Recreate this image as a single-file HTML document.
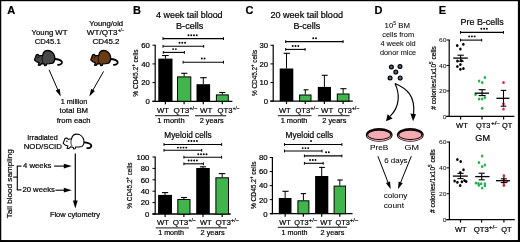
<!DOCTYPE html>
<html><head><meta charset="utf-8"><style>
html,body{margin:0;padding:0;background:#fff;}
svg{display:block;font-family:"Liberation Sans", sans-serif;will-change:transform;filter:blur(0.2px);}
text{stroke:#000;stroke-width:0.2px;}
</style></head><body>
<svg width="520" height="242" viewBox="0 0 520 242">
<rect width="520" height="242" fill="#fff"/>
<rect x="0" y="0" width="520" height="1.2" fill="#000"/>
<rect x="0" y="0" width="1.25" height="242" fill="#000"/>
<rect x="517.9" y="0" width="2.1" height="242" fill="#000"/>
<rect x="0" y="240.05" width="520" height="1.95" fill="#000"/>
<text x="7.20" y="14.20" font-size="11" font-weight="bold" >A</text>
<text x="133.00" y="14.00" font-size="11" font-weight="bold" >B</text>
<text x="245.60" y="14.20" font-size="11" font-weight="bold" >C</text>
<text x="374.40" y="14.10" font-size="11" font-weight="bold" >D</text>
<text x="438.80" y="14.30" font-size="11" font-weight="bold" >E</text>
<text x="49.50" y="34.90" font-size="7.6" text-anchor="middle" textLength="35.80" lengthAdjust="spacingAndGlyphs" >Young WT</text>
<text x="47.70" y="44.20" font-size="7.6" text-anchor="middle" textLength="25.90" lengthAdjust="spacingAndGlyphs" >CD45.1</text>
<text x="106.20" y="25.80" font-size="7.6" text-anchor="middle" textLength="33.90" lengthAdjust="spacingAndGlyphs" >Young/old</text>
<text x="86.80" y="34.80" font-size="7.6" textLength="30.60" lengthAdjust="spacingAndGlyphs" >WT/QT3</text>
<text x="118.10" y="31.50" font-size="5.0" textLength="6.00" lengthAdjust="spacingAndGlyphs" >+/−</text>
<text x="106.00" y="44.10" font-size="7.6" text-anchor="middle" textLength="27.00" lengthAdjust="spacingAndGlyphs" >CD45.2</text>
<text x="74.00" y="104.30" font-size="7.4" text-anchor="middle" textLength="26.60" lengthAdjust="spacingAndGlyphs" >1 million</text>
<text x="73.80" y="113.00" font-size="7.4" text-anchor="middle" textLength="28.40" lengthAdjust="spacingAndGlyphs" >total BM</text>
<text x="73.60" y="122.50" font-size="7.4" text-anchor="middle" textLength="33.80" lengthAdjust="spacingAndGlyphs" >from each</text>
<text x="42.60" y="140.00" font-size="7.3" text-anchor="middle" textLength="30.60" lengthAdjust="spacingAndGlyphs" >Irradiated</text>
<text x="42.80" y="149.30" font-size="7.6" text-anchor="middle" textLength="38.30" lengthAdjust="spacingAndGlyphs" >NOD/SCID</text>
<text x="23.00" y="168.40" font-size="7.4" textLength="28.40" lengthAdjust="spacingAndGlyphs" >4 weeks</text>
<text x="22.40" y="192.00" font-size="7.4" textLength="32.60" lengthAdjust="spacingAndGlyphs" >20 weeks</text>
<text x="75.00" y="217.00" font-size="7.4" text-anchor="middle" textLength="50.20" lengthAdjust="spacingAndGlyphs" >Flow cytometry</text>
<text x="0" y="0" font-size="7.8" text-anchor="middle" textLength="69.00" lengthAdjust="spacingAndGlyphs" transform="translate(11.90,183.70) rotate(-90)">Tail blood sampling</text>
<g transform="translate(33.9,49.0) scale(0.98,1.02)"><path d="M20.8,9.8 C24.0,9.9 27.6,10.6 28.6,12.6 C29.2,14.5 27.0,15.6 24.6,15.5" fill="none" stroke="#000" stroke-width="1.8" stroke-linecap="round"/><path d="M0.6,10.8 L2.5,5.7 L4.1,5.3 L5.7,6.8 L6.8,6.5 L8.9,6.3 C9.5,3.0 12.0,1.5 14.3,1.5 C17.5,1.5 20.5,4.0 21.2,7.5 C21.6,10.0 21.0,12.5 19.5,13.8 L16.0,14.3 L13.0,14.5 L12.6,16.1 L11.0,16.3 L10.8,14.8 L8.0,14.2 L6.2,16.0 L4.5,15.8 L5.3,13.3 L2.5,12.3 Z" fill="#474747" stroke="#000" stroke-width="1.3" stroke-linejoin="round"/><path d="M8.9,6.3 C8.0,9.0 8.0,11.5 9.6,13.6" fill="none" stroke="#000" stroke-width="0.8"/><circle cx="4.3" cy="8.6" r="0.75" fill="#000"/></g>
<g transform="translate(90.2,49.0) scale(0.96,1.02)"><path d="M20.8,9.8 C24.0,9.9 27.6,10.6 28.6,12.6 C29.2,14.5 27.0,15.6 24.6,15.5" fill="none" stroke="#000" stroke-width="1.8" stroke-linecap="round"/><path d="M0.6,10.8 L2.5,5.7 L4.1,5.3 L5.7,6.8 L6.8,6.5 L8.9,6.3 C9.5,3.0 12.0,1.5 14.3,1.5 C17.5,1.5 20.5,4.0 21.2,7.5 C21.6,10.0 21.0,12.5 19.5,13.8 L16.0,14.3 L13.0,14.5 L12.6,16.1 L11.0,16.3 L10.8,14.8 L8.0,14.2 L6.2,16.0 L4.5,15.8 L5.3,13.3 L2.5,12.3 Z" fill="#6c3c14" stroke="#000" stroke-width="1.3" stroke-linejoin="round"/><path d="M8.9,6.3 C8.0,9.0 8.0,11.5 9.6,13.6" fill="none" stroke="#000" stroke-width="0.8"/><circle cx="4.3" cy="8.6" r="0.75" fill="#000"/></g>
<g transform="translate(62.6,132.6) scale(1.0,1.0)"><path d="M20.8,9.8 C24.0,9.9 27.6,10.6 28.6,12.6 C29.2,14.5 27.0,15.6 24.6,15.5" fill="none" stroke="#000" stroke-width="1.8" stroke-linecap="round"/><path d="M0.6,10.8 L2.5,5.7 L4.1,5.3 L5.7,6.8 L6.8,6.5 L8.9,6.3 C9.5,3.0 12.0,1.5 14.3,1.5 C17.5,1.5 20.5,4.0 21.2,7.5 C21.6,10.0 21.0,12.5 19.5,13.8 L16.0,14.3 L13.0,14.5 L12.6,16.1 L11.0,16.3 L10.8,14.8 L8.0,14.2 L6.2,16.0 L4.5,15.8 L5.3,13.3 L2.5,12.3 Z" fill="#fff" stroke="#000" stroke-width="1.05" stroke-linejoin="round"/><path d="M8.9,6.3 C8.0,9.0 8.0,11.5 9.6,13.6" fill="none" stroke="#000" stroke-width="0.8"/><circle cx="4.3" cy="8.6" r="0.75" fill="#000"/></g>
<line x1="49.10" y1="69.80" x2="57.90" y2="89.98" stroke="#000" stroke-width="1.0" />
<path d="M60.70,96.40 L55.69,90.40 L59.72,88.65 Z" fill="#000"/>
<line x1="103.60" y1="71.40" x2="92.78" y2="90.32" stroke="#000" stroke-width="1.0" />
<path d="M89.30,96.40 L91.11,88.80 L94.93,90.98 Z" fill="#000"/>
<line x1="17.30" y1="166.10" x2="17.30" y2="189.90" stroke="#000" stroke-width="1.1" />
<line x1="16.80" y1="166.10" x2="21.50" y2="166.10" stroke="#000" stroke-width="1.1" />
<line x1="16.80" y1="189.90" x2="21.50" y2="189.90" stroke="#000" stroke-width="1.1" />
<line x1="13.20" y1="177.10" x2="17.30" y2="177.10" stroke="#000" stroke-width="1.1" />
<line x1="54.10" y1="166.10" x2="64.30" y2="166.10" stroke="#000" stroke-width="1.1" />
<path d="M71.80,166.10 L63.80,168.50 L63.80,163.70 Z" fill="#000"/>
<line x1="55.40" y1="190.20" x2="64.30" y2="190.20" stroke="#000" stroke-width="1.1" />
<path d="M71.80,190.20 L63.80,192.60 L63.80,187.80 Z" fill="#000"/>
<line x1="75.30" y1="153.50" x2="75.30" y2="200.90" stroke="#000" stroke-width="1.2" />
<path d="M75.30,208.40 L72.90,200.40 L77.70,200.40 Z" fill="#000"/>
<text x="189.30" y="17.90" font-size="8.4" text-anchor="middle" textLength="66.60" lengthAdjust="spacingAndGlyphs" >4 week tail blood</text>
<text x="189.70" y="29.20" font-size="8.8" text-anchor="middle" textLength="27.30" lengthAdjust="spacingAndGlyphs" >B-cells</text>
<line x1="155.20" y1="44.70" x2="155.20" y2="101.80" stroke="#000" stroke-width="1.2" />
<line x1="152.50" y1="45.20" x2="155.20" y2="45.20" stroke="#000" stroke-width="1.0" />
<text x="149.90" y="48.08" font-size="7.2" text-anchor="end" textLength="8.65" lengthAdjust="spacingAndGlyphs" >60</text>
<line x1="152.50" y1="63.90" x2="155.20" y2="63.90" stroke="#000" stroke-width="1.0" />
<text x="149.90" y="66.78" font-size="7.2" text-anchor="end" textLength="8.65" lengthAdjust="spacingAndGlyphs" >40</text>
<line x1="152.50" y1="82.60" x2="155.20" y2="82.60" stroke="#000" stroke-width="1.0" />
<text x="149.90" y="85.48" font-size="7.2" text-anchor="end" textLength="8.65" lengthAdjust="spacingAndGlyphs" >20</text>
<line x1="152.50" y1="101.30" x2="155.20" y2="101.30" stroke="#000" stroke-width="1.0" />
<text x="149.90" y="104.18" font-size="7.2" text-anchor="end" textLength="4.32" lengthAdjust="spacingAndGlyphs" >0</text>
<line x1="152.40" y1="101.30" x2="232.40" y2="101.30" stroke="#000" stroke-width="1.3" />
<line x1="165.40" y1="101.30" x2="165.40" y2="104.30" stroke="#000" stroke-width="1.2" />
<line x1="184.10" y1="101.30" x2="184.10" y2="104.30" stroke="#000" stroke-width="1.2" />
<line x1="203.30" y1="101.30" x2="203.30" y2="104.30" stroke="#000" stroke-width="1.2" />
<line x1="222.30" y1="101.30" x2="222.30" y2="104.30" stroke="#000" stroke-width="1.2" />
<line x1="165.40" y1="55.50" x2="165.40" y2="58.60" stroke="#000" stroke-width="1.0" />
<line x1="162.00" y1="55.50" x2="168.70" y2="55.50" stroke="#000" stroke-width="1.1" />
<rect x="158.30" y="58.60" width="14.20" height="42.70" fill="#000"/>
<line x1="184.15" y1="73.30" x2="184.15" y2="76.40" stroke="#000" stroke-width="1.0" />
<line x1="181.20" y1="73.30" x2="187.40" y2="73.30" stroke="#000" stroke-width="1.1" />
<rect x="177.50" y="76.90" width="13.30" height="24.40" fill="#3fb54b" stroke="#000" stroke-width="1.0"/>
<line x1="203.30" y1="77.70" x2="203.30" y2="84.20" stroke="#000" stroke-width="1.0" />
<line x1="200.20" y1="77.70" x2="206.70" y2="77.70" stroke="#000" stroke-width="1.1" />
<rect x="196.50" y="84.20" width="13.60" height="17.10" fill="#000"/>
<line x1="222.35" y1="92.50" x2="222.35" y2="94.40" stroke="#000" stroke-width="1.0" />
<line x1="219.20" y1="92.50" x2="225.40" y2="92.50" stroke="#000" stroke-width="1.1" />
<rect x="216.40" y="94.90" width="11.90" height="6.40" fill="#3fb54b" stroke="#000" stroke-width="1.0"/>
<line x1="163.00" y1="38.60" x2="223.50" y2="38.60" stroke="#000" stroke-width="1.1" />
<line x1="163.00" y1="37.20" x2="163.00" y2="40.00" stroke="#000" stroke-width="1.0" />
<line x1="223.50" y1="37.20" x2="223.50" y2="40.00" stroke="#000" stroke-width="1.0" />
<circle cx="188.47" cy="35.20" r="0.95" fill="#000"/>
<circle cx="191.22" cy="35.20" r="0.95" fill="#000"/>
<circle cx="193.97" cy="35.20" r="0.95" fill="#000"/>
<circle cx="196.72" cy="35.20" r="0.95" fill="#000"/>
<line x1="163.00" y1="46.30" x2="203.70" y2="46.30" stroke="#000" stroke-width="1.1" />
<line x1="163.00" y1="44.90" x2="163.00" y2="47.70" stroke="#000" stroke-width="1.0" />
<line x1="203.70" y1="44.90" x2="203.70" y2="47.70" stroke="#000" stroke-width="1.0" />
<circle cx="179.55" cy="42.80" r="0.95" fill="#000"/>
<circle cx="182.30" cy="42.80" r="0.95" fill="#000"/>
<circle cx="185.05" cy="42.80" r="0.95" fill="#000"/>
<line x1="163.30" y1="52.40" x2="184.40" y2="52.40" stroke="#000" stroke-width="1.1" />
<line x1="163.30" y1="51.00" x2="163.30" y2="53.80" stroke="#000" stroke-width="1.0" />
<line x1="184.40" y1="51.00" x2="184.40" y2="53.80" stroke="#000" stroke-width="1.0" />
<circle cx="173.12" cy="49.10" r="0.95" fill="#000"/>
<circle cx="175.88" cy="49.10" r="0.95" fill="#000"/>
<line x1="183.10" y1="62.20" x2="223.50" y2="62.20" stroke="#000" stroke-width="1.1" />
<line x1="183.10" y1="60.80" x2="183.10" y2="63.60" stroke="#000" stroke-width="1.0" />
<line x1="223.50" y1="60.80" x2="223.50" y2="63.60" stroke="#000" stroke-width="1.0" />
<circle cx="201.82" cy="58.50" r="0.95" fill="#000"/>
<circle cx="204.57" cy="58.50" r="0.95" fill="#000"/>
<text x="0" y="0" font-size="7.8" text-anchor="middle" textLength="47.40" lengthAdjust="spacingAndGlyphs" transform="translate(138.00,73.10) rotate(-90)">% CD45.2<tspan baseline-shift="3.0" font-size="5.0">+</tspan> cells</text>
<text x="157.00" y="113.00" font-size="7.3" textLength="12.00" lengthAdjust="spacingAndGlyphs" >WT</text>
<text x="173.60" y="113.00" font-size="7.6" textLength="15.80" lengthAdjust="spacingAndGlyphs" >QT3</text>
<text x="189.20" y="110.20" font-size="5.3" textLength="8.20" lengthAdjust="spacingAndGlyphs" >+/−</text>
<text x="200.10" y="113.00" font-size="7.3" textLength="12.30" lengthAdjust="spacingAndGlyphs" >WT</text>
<text x="217.60" y="113.00" font-size="7.6" textLength="15.00" lengthAdjust="spacingAndGlyphs" >QT3</text>
<text x="232.80" y="110.20" font-size="5.3" textLength="6.60" lengthAdjust="spacingAndGlyphs" >+/−</text>
<line x1="155.00" y1="115.70" x2="189.00" y2="115.70" stroke="#444" stroke-width="1.3" />
<line x1="195.00" y1="115.70" x2="226.10" y2="115.70" stroke="#444" stroke-width="1.3" />
<text x="157.30" y="123.30" font-size="7.3" textLength="27.30" lengthAdjust="spacingAndGlyphs" >1 month</text>
<text x="199.70" y="123.30" font-size="7.3" textLength="24.10" lengthAdjust="spacingAndGlyphs" >2 years</text>
<text x="188.00" y="137.90" font-size="8.2" text-anchor="middle" textLength="47.30" lengthAdjust="spacingAndGlyphs" >Myeloid cells</text>
<line x1="155.20" y1="156.50" x2="155.20" y2="214.50" stroke="#000" stroke-width="1.2" />
<line x1="152.50" y1="157.00" x2="155.20" y2="157.00" stroke="#000" stroke-width="1.0" />
<text x="149.40" y="159.88" font-size="7.2" text-anchor="end" textLength="12.97" lengthAdjust="spacingAndGlyphs" >100</text>
<line x1="152.50" y1="168.40" x2="155.20" y2="168.40" stroke="#000" stroke-width="1.0" />
<text x="149.40" y="171.28" font-size="7.2" text-anchor="end" textLength="8.65" lengthAdjust="spacingAndGlyphs" >80</text>
<line x1="152.50" y1="179.80" x2="155.20" y2="179.80" stroke="#000" stroke-width="1.0" />
<text x="149.40" y="182.68" font-size="7.2" text-anchor="end" textLength="8.65" lengthAdjust="spacingAndGlyphs" >60</text>
<line x1="152.50" y1="191.20" x2="155.20" y2="191.20" stroke="#000" stroke-width="1.0" />
<text x="149.40" y="194.08" font-size="7.2" text-anchor="end" textLength="8.65" lengthAdjust="spacingAndGlyphs" >40</text>
<line x1="152.50" y1="202.60" x2="155.20" y2="202.60" stroke="#000" stroke-width="1.0" />
<text x="149.40" y="205.48" font-size="7.2" text-anchor="end" textLength="8.65" lengthAdjust="spacingAndGlyphs" >20</text>
<line x1="152.50" y1="214.00" x2="155.20" y2="214.00" stroke="#000" stroke-width="1.0" />
<text x="149.40" y="216.88" font-size="7.2" text-anchor="end" textLength="4.32" lengthAdjust="spacingAndGlyphs" >0</text>
<line x1="152.40" y1="214.00" x2="230.70" y2="214.00" stroke="#000" stroke-width="1.3" />
<line x1="165.10" y1="214.00" x2="165.10" y2="217.00" stroke="#000" stroke-width="1.2" />
<line x1="183.90" y1="214.00" x2="183.90" y2="217.00" stroke="#000" stroke-width="1.2" />
<line x1="203.00" y1="214.00" x2="203.00" y2="217.00" stroke="#000" stroke-width="1.2" />
<line x1="222.20" y1="214.00" x2="222.20" y2="217.00" stroke="#000" stroke-width="1.2" />
<line x1="165.05" y1="192.60" x2="165.05" y2="194.90" stroke="#000" stroke-width="1.0" />
<line x1="162.00" y1="192.60" x2="168.20" y2="192.60" stroke="#000" stroke-width="1.1" />
<rect x="158.10" y="194.90" width="13.90" height="19.10" fill="#000"/>
<line x1="183.90" y1="197.50" x2="183.90" y2="199.00" stroke="#000" stroke-width="1.0" />
<line x1="181.00" y1="197.50" x2="187.00" y2="197.50" stroke="#000" stroke-width="1.1" />
<rect x="177.80" y="199.50" width="12.20" height="14.50" fill="#3fb54b" stroke="#000" stroke-width="1.0"/>
<line x1="203.00" y1="166.80" x2="203.00" y2="168.00" stroke="#000" stroke-width="1.0" />
<line x1="199.90" y1="166.80" x2="206.10" y2="166.80" stroke="#000" stroke-width="1.1" />
<rect x="196.20" y="168.00" width="13.60" height="46.00" fill="#000"/>
<line x1="222.20" y1="173.60" x2="222.20" y2="177.30" stroke="#000" stroke-width="1.0" />
<line x1="218.70" y1="173.60" x2="225.30" y2="173.60" stroke="#000" stroke-width="1.1" />
<rect x="215.90" y="177.80" width="12.60" height="36.20" fill="#3fb54b" stroke="#000" stroke-width="1.0"/>
<line x1="164.00" y1="144.50" x2="221.60" y2="144.50" stroke="#000" stroke-width="1.1" />
<line x1="164.00" y1="143.10" x2="164.00" y2="145.90" stroke="#000" stroke-width="1.0" />
<line x1="221.60" y1="143.10" x2="221.60" y2="145.90" stroke="#000" stroke-width="1.0" />
<circle cx="188.68" cy="141.00" r="0.95" fill="#000"/>
<circle cx="191.43" cy="141.00" r="0.95" fill="#000"/>
<circle cx="194.18" cy="141.00" r="0.95" fill="#000"/>
<circle cx="196.93" cy="141.00" r="0.95" fill="#000"/>
<line x1="164.00" y1="150.30" x2="201.70" y2="150.30" stroke="#000" stroke-width="1.1" />
<line x1="164.00" y1="148.90" x2="164.00" y2="151.70" stroke="#000" stroke-width="1.0" />
<line x1="201.70" y1="148.90" x2="201.70" y2="151.70" stroke="#000" stroke-width="1.0" />
<circle cx="177.97" cy="147.60" r="0.95" fill="#000"/>
<circle cx="180.72" cy="147.60" r="0.95" fill="#000"/>
<circle cx="183.47" cy="147.60" r="0.95" fill="#000"/>
<circle cx="186.22" cy="147.60" r="0.95" fill="#000"/>
<line x1="183.90" y1="157.20" x2="221.60" y2="157.20" stroke="#000" stroke-width="1.1" />
<line x1="183.90" y1="155.80" x2="183.90" y2="158.60" stroke="#000" stroke-width="1.0" />
<line x1="221.60" y1="155.80" x2="221.60" y2="158.60" stroke="#000" stroke-width="1.0" />
<circle cx="198.28" cy="154.30" r="0.95" fill="#000"/>
<circle cx="201.03" cy="154.30" r="0.95" fill="#000"/>
<circle cx="203.78" cy="154.30" r="0.95" fill="#000"/>
<circle cx="206.53" cy="154.30" r="0.95" fill="#000"/>
<line x1="183.90" y1="163.80" x2="203.40" y2="163.80" stroke="#000" stroke-width="1.1" />
<line x1="183.90" y1="162.40" x2="183.90" y2="165.20" stroke="#000" stroke-width="1.0" />
<line x1="203.40" y1="162.40" x2="203.40" y2="165.20" stroke="#000" stroke-width="1.0" />
<circle cx="188.68" cy="160.50" r="0.95" fill="#000"/>
<circle cx="191.43" cy="160.50" r="0.95" fill="#000"/>
<circle cx="194.18" cy="160.50" r="0.95" fill="#000"/>
<circle cx="196.93" cy="160.50" r="0.95" fill="#000"/>
<text x="0" y="0" font-size="7.8" text-anchor="middle" textLength="46.10" lengthAdjust="spacingAndGlyphs" transform="translate(131.80,185.60) rotate(-90)">% CD45.2<tspan baseline-shift="3.0" font-size="5.0">+</tspan> cells</text>
<text x="157.00" y="224.80" font-size="7.3" textLength="12.00" lengthAdjust="spacingAndGlyphs" >WT</text>
<text x="172.70" y="224.80" font-size="7.6" textLength="15.60" lengthAdjust="spacingAndGlyphs" >QT3</text>
<text x="188.50" y="222.00" font-size="5.3" textLength="7.30" lengthAdjust="spacingAndGlyphs" >+/−</text>
<text x="199.90" y="224.80" font-size="7.3" textLength="11.70" lengthAdjust="spacingAndGlyphs" >WT</text>
<text x="215.40" y="224.80" font-size="7.6" textLength="15.60" lengthAdjust="spacingAndGlyphs" >QT3</text>
<text x="231.00" y="222.00" font-size="5.3" textLength="7.80" lengthAdjust="spacingAndGlyphs" >+/−</text>
<line x1="155.70" y1="227.80" x2="188.90" y2="227.80" stroke="#444" stroke-width="1.3" />
<line x1="196.70" y1="227.80" x2="227.00" y2="227.80" stroke="#444" stroke-width="1.3" />
<text x="158.20" y="235.00" font-size="7.3" textLength="25.80" lengthAdjust="spacingAndGlyphs" >1 month</text>
<text x="200.50" y="235.00" font-size="7.3" textLength="24.20" lengthAdjust="spacingAndGlyphs" >2 years</text>
<text x="306.70" y="18.40" font-size="8.4" text-anchor="middle" textLength="72.60" lengthAdjust="spacingAndGlyphs" >20 week tail blood</text>
<text x="306.80" y="29.10" font-size="8.8" text-anchor="middle" textLength="26.80" lengthAdjust="spacingAndGlyphs" >B-cells</text>
<line x1="273.20" y1="44.80" x2="273.20" y2="101.60" stroke="#000" stroke-width="1.2" />
<line x1="270.50" y1="45.30" x2="273.20" y2="45.30" stroke="#000" stroke-width="1.0" />
<text x="268.20" y="48.18" font-size="7.2" text-anchor="end" textLength="8.65" lengthAdjust="spacingAndGlyphs" >30</text>
<line x1="270.50" y1="63.90" x2="273.20" y2="63.90" stroke="#000" stroke-width="1.0" />
<text x="268.20" y="66.78" font-size="7.2" text-anchor="end" textLength="8.65" lengthAdjust="spacingAndGlyphs" >20</text>
<line x1="270.50" y1="82.50" x2="273.20" y2="82.50" stroke="#000" stroke-width="1.0" />
<text x="268.20" y="85.38" font-size="7.2" text-anchor="end" textLength="8.65" lengthAdjust="spacingAndGlyphs" >10</text>
<line x1="270.50" y1="101.10" x2="273.20" y2="101.10" stroke="#000" stroke-width="1.0" />
<text x="268.20" y="103.98" font-size="7.2" text-anchor="end" textLength="4.32" lengthAdjust="spacingAndGlyphs" >0</text>
<line x1="270.20" y1="101.10" x2="352.80" y2="101.10" stroke="#000" stroke-width="1.3" />
<line x1="286.50" y1="101.10" x2="286.50" y2="104.10" stroke="#000" stroke-width="1.2" />
<line x1="305.30" y1="101.10" x2="305.30" y2="104.10" stroke="#000" stroke-width="1.2" />
<line x1="324.40" y1="101.10" x2="324.40" y2="104.10" stroke="#000" stroke-width="1.2" />
<line x1="343.10" y1="101.10" x2="343.10" y2="104.10" stroke="#000" stroke-width="1.2" />
<line x1="286.50" y1="53.30" x2="286.50" y2="68.50" stroke="#000" stroke-width="1.0" />
<line x1="283.60" y1="53.30" x2="289.90" y2="53.30" stroke="#000" stroke-width="1.1" />
<rect x="279.70" y="68.50" width="13.60" height="32.60" fill="#000"/>
<line x1="305.30" y1="89.80" x2="305.30" y2="94.50" stroke="#000" stroke-width="1.0" />
<line x1="303.60" y1="89.80" x2="308.50" y2="89.80" stroke="#000" stroke-width="1.1" />
<rect x="299.60" y="95.00" width="11.40" height="6.10" fill="#3fb54b" stroke="#000" stroke-width="1.0"/>
<line x1="324.40" y1="75.30" x2="324.40" y2="86.90" stroke="#000" stroke-width="1.0" />
<line x1="321.70" y1="75.30" x2="327.70" y2="75.30" stroke="#000" stroke-width="1.1" />
<rect x="317.80" y="86.90" width="13.20" height="14.20" fill="#000"/>
<line x1="343.15" y1="88.70" x2="343.15" y2="93.50" stroke="#000" stroke-width="1.0" />
<line x1="340.40" y1="88.70" x2="346.50" y2="88.70" stroke="#000" stroke-width="1.1" />
<rect x="337.30" y="94.00" width="11.70" height="7.10" fill="#3fb54b" stroke="#000" stroke-width="1.0"/>
<line x1="285.70" y1="41.60" x2="343.10" y2="41.60" stroke="#000" stroke-width="1.1" />
<line x1="285.70" y1="40.20" x2="285.70" y2="43.00" stroke="#000" stroke-width="1.0" />
<line x1="343.10" y1="40.20" x2="343.10" y2="43.00" stroke="#000" stroke-width="1.0" />
<circle cx="313.23" cy="38.30" r="0.95" fill="#000"/>
<circle cx="315.98" cy="38.30" r="0.95" fill="#000"/>
<line x1="285.70" y1="49.40" x2="305.10" y2="49.40" stroke="#000" stroke-width="1.1" />
<line x1="285.70" y1="48.00" x2="285.70" y2="50.80" stroke="#000" stroke-width="1.0" />
<line x1="305.10" y1="48.00" x2="305.10" y2="50.80" stroke="#000" stroke-width="1.0" />
<circle cx="292.75" cy="46.00" r="0.95" fill="#000"/>
<circle cx="295.50" cy="46.00" r="0.95" fill="#000"/>
<circle cx="298.25" cy="46.00" r="0.95" fill="#000"/>
<text x="0" y="0" font-size="7.8" text-anchor="middle" textLength="46.20" lengthAdjust="spacingAndGlyphs" transform="translate(256.60,73.00) rotate(-90)">% CD45.2<tspan baseline-shift="3.0" font-size="5.0">+</tspan> cells</text>
<text x="278.90" y="113.00" font-size="7.3" textLength="11.80" lengthAdjust="spacingAndGlyphs" >WT</text>
<text x="295.40" y="113.00" font-size="7.6" textLength="14.80" lengthAdjust="spacingAndGlyphs" >QT3</text>
<text x="310.20" y="110.20" font-size="5.3" textLength="8.30" lengthAdjust="spacingAndGlyphs" >+/−</text>
<text x="321.10" y="113.00" font-size="7.3" textLength="12.10" lengthAdjust="spacingAndGlyphs" >WT</text>
<text x="337.70" y="113.00" font-size="7.6" textLength="14.20" lengthAdjust="spacingAndGlyphs" >QT3</text>
<text x="351.70" y="110.20" font-size="5.3" textLength="7.70" lengthAdjust="spacingAndGlyphs" >+/−</text>
<line x1="277.80" y1="115.60" x2="311.50" y2="115.60" stroke="#444" stroke-width="1.3" />
<line x1="318.10" y1="115.60" x2="349.60" y2="115.60" stroke="#444" stroke-width="1.3" />
<text x="280.70" y="123.40" font-size="7.3" textLength="26.80" lengthAdjust="spacingAndGlyphs" >1 month</text>
<text x="322.30" y="123.40" font-size="7.3" textLength="24.10" lengthAdjust="spacingAndGlyphs" >2 years</text>
<text x="309.40" y="137.90" font-size="8.2" text-anchor="middle" textLength="47.60" lengthAdjust="spacingAndGlyphs" >Myeloid cells</text>
<line x1="272.40" y1="157.00" x2="272.40" y2="214.20" stroke="#000" stroke-width="1.2" />
<line x1="269.70" y1="157.50" x2="272.40" y2="157.50" stroke="#000" stroke-width="1.0" />
<text x="267.70" y="160.38" font-size="7.2" text-anchor="end" textLength="8.65" lengthAdjust="spacingAndGlyphs" >80</text>
<line x1="269.70" y1="171.55" x2="272.40" y2="171.55" stroke="#000" stroke-width="1.0" />
<text x="267.70" y="174.43" font-size="7.2" text-anchor="end" textLength="8.65" lengthAdjust="spacingAndGlyphs" >60</text>
<line x1="269.70" y1="185.60" x2="272.40" y2="185.60" stroke="#000" stroke-width="1.0" />
<text x="267.70" y="188.48" font-size="7.2" text-anchor="end" textLength="8.65" lengthAdjust="spacingAndGlyphs" >40</text>
<line x1="269.70" y1="199.65" x2="272.40" y2="199.65" stroke="#000" stroke-width="1.0" />
<text x="267.70" y="202.53" font-size="7.2" text-anchor="end" textLength="8.65" lengthAdjust="spacingAndGlyphs" >20</text>
<line x1="269.70" y1="213.70" x2="272.40" y2="213.70" stroke="#000" stroke-width="1.0" />
<text x="267.70" y="216.58" font-size="7.2" text-anchor="end" textLength="4.32" lengthAdjust="spacingAndGlyphs" >0</text>
<line x1="270.20" y1="213.70" x2="352.50" y2="213.70" stroke="#000" stroke-width="1.3" />
<line x1="285.20" y1="213.70" x2="285.20" y2="216.70" stroke="#000" stroke-width="1.2" />
<line x1="303.40" y1="213.70" x2="303.40" y2="216.70" stroke="#000" stroke-width="1.2" />
<line x1="321.70" y1="213.70" x2="321.70" y2="216.70" stroke="#000" stroke-width="1.2" />
<line x1="339.80" y1="213.70" x2="339.80" y2="216.70" stroke="#000" stroke-width="1.2" />
<line x1="285.15" y1="191.30" x2="285.15" y2="198.00" stroke="#000" stroke-width="1.0" />
<line x1="282.40" y1="191.30" x2="288.60" y2="191.30" stroke="#000" stroke-width="1.1" />
<rect x="278.80" y="198.00" width="12.70" height="15.70" fill="#000"/>
<line x1="303.40" y1="193.60" x2="303.40" y2="200.30" stroke="#000" stroke-width="1.0" />
<line x1="300.80" y1="193.60" x2="306.10" y2="193.60" stroke="#000" stroke-width="1.1" />
<rect x="297.90" y="200.80" width="11.00" height="12.90" fill="#3fb54b" stroke="#000" stroke-width="1.0"/>
<line x1="321.70" y1="167.40" x2="321.70" y2="176.00" stroke="#000" stroke-width="1.0" />
<line x1="319.10" y1="167.40" x2="324.90" y2="167.40" stroke="#000" stroke-width="1.1" />
<rect x="315.10" y="176.00" width="13.20" height="37.70" fill="#000"/>
<line x1="339.80" y1="180.00" x2="339.80" y2="185.60" stroke="#000" stroke-width="1.0" />
<line x1="337.30" y1="180.00" x2="342.70" y2="180.00" stroke="#000" stroke-width="1.1" />
<rect x="334.10" y="186.10" width="11.40" height="27.60" fill="#3fb54b" stroke="#000" stroke-width="1.0"/>
<line x1="284.50" y1="144.50" x2="341.90" y2="144.50" stroke="#000" stroke-width="1.1" />
<line x1="284.50" y1="143.10" x2="284.50" y2="145.90" stroke="#000" stroke-width="1.0" />
<line x1="341.90" y1="143.10" x2="341.90" y2="145.90" stroke="#000" stroke-width="1.0" />
<circle cx="311.00" cy="141.00" r="0.95" fill="#000"/>
<line x1="284.50" y1="151.00" x2="322.00" y2="151.00" stroke="#000" stroke-width="1.1" />
<line x1="284.50" y1="149.60" x2="284.50" y2="152.40" stroke="#000" stroke-width="1.0" />
<line x1="322.00" y1="149.60" x2="322.00" y2="152.40" stroke="#000" stroke-width="1.0" />
<circle cx="302.75" cy="148.10" r="0.95" fill="#000"/>
<circle cx="305.50" cy="148.10" r="0.95" fill="#000"/>
<circle cx="308.25" cy="148.10" r="0.95" fill="#000"/>
<circle cx="326.10" cy="152.3" r="0.95" fill="#000"/>
<circle cx="328.85" cy="152.3" r="0.95" fill="#000"/>
<line x1="304.40" y1="155.90" x2="341.90" y2="155.90" stroke="#000" stroke-width="1.1" />
<line x1="304.40" y1="154.50" x2="304.40" y2="157.30" stroke="#000" stroke-width="1.0" />
<line x1="341.90" y1="154.50" x2="341.90" y2="157.30" stroke="#000" stroke-width="1.0" />
<line x1="304.40" y1="163.30" x2="323.20" y2="163.30" stroke="#000" stroke-width="1.1" />
<line x1="304.40" y1="161.90" x2="304.40" y2="164.70" stroke="#000" stroke-width="1.0" />
<line x1="323.20" y1="161.90" x2="323.20" y2="164.70" stroke="#000" stroke-width="1.0" />
<circle cx="310.05" cy="160.00" r="0.95" fill="#000"/>
<circle cx="312.80" cy="160.00" r="0.95" fill="#000"/>
<circle cx="315.55" cy="160.00" r="0.95" fill="#000"/>
<text x="0" y="0" font-size="7.8" text-anchor="middle" textLength="47.60" lengthAdjust="spacingAndGlyphs" transform="translate(255.60,185.30) rotate(-90)">% CD45.2<tspan baseline-shift="3.0" font-size="5.0">+</tspan> cells</text>
<text x="279.30" y="224.70" font-size="7.3" textLength="11.40" lengthAdjust="spacingAndGlyphs" >WT</text>
<text x="294.30" y="224.70" font-size="7.6" textLength="14.30" lengthAdjust="spacingAndGlyphs" >QT3</text>
<text x="308.60" y="221.90" font-size="5.3" textLength="8.80" lengthAdjust="spacingAndGlyphs" >+/−</text>
<text x="320.30" y="224.70" font-size="7.3" textLength="11.70" lengthAdjust="spacingAndGlyphs" >WT</text>
<text x="335.50" y="224.70" font-size="7.6" textLength="14.30" lengthAdjust="spacingAndGlyphs" >QT3</text>
<text x="349.80" y="221.90" font-size="5.3" textLength="8.50" lengthAdjust="spacingAndGlyphs" >+/−</text>
<line x1="277.80" y1="227.30" x2="311.50" y2="227.30" stroke="#444" stroke-width="1.3" />
<line x1="316.40" y1="227.30" x2="347.00" y2="227.30" stroke="#444" stroke-width="1.3" />
<text x="281.60" y="234.50" font-size="7.3" textLength="25.90" lengthAdjust="spacingAndGlyphs" >1 month</text>
<text x="320.50" y="234.50" font-size="7.3" textLength="23.80" lengthAdjust="spacingAndGlyphs" >2 years</text>
<text x="397.30" y="27.60" font-size="7.8" text-anchor="middle" style="stroke-width:0.05px">10<tspan baseline-shift="3.0" font-size="5.2">5</tspan> BM</text>
<text x="398.20" y="36.80" font-size="7.8" text-anchor="middle" textLength="32.00" lengthAdjust="spacingAndGlyphs" style="stroke-width:0.05px">cells from</text>
<text x="398.05" y="46.00" font-size="7.8" text-anchor="middle" textLength="35.30" lengthAdjust="spacingAndGlyphs" style="stroke-width:0.05px">4 week old</text>
<text x="398.05" y="55.30" font-size="7.8" text-anchor="middle" textLength="36.10" lengthAdjust="spacingAndGlyphs" style="stroke-width:0.05px">donor mice</text>
<circle cx="391.4" cy="67.0" r="1.9" fill="#52667f" stroke="#000" stroke-width="1.25"/>
<circle cx="400.0" cy="66.5" r="1.9" fill="#52667f" stroke="#000" stroke-width="1.25"/>
<circle cx="395.8" cy="72.1" r="1.9" fill="#52667f" stroke="#000" stroke-width="1.25"/>
<circle cx="390.1" cy="77.9" r="1.9" fill="#52667f" stroke="#000" stroke-width="1.25"/>
<circle cx="400.2" cy="78.1" r="1.9" fill="#52667f" stroke="#000" stroke-width="1.25"/>
<path d="M395.0,83.5 C399.5,93 400.5,106 390.2,116.2" fill="none" stroke="#000" stroke-width="1.15"/>
<path d="M386.0,121.2 L387.6,114.2 L392.6,118.6 Z" fill="#000"/>
<path d="M395.0,83.5 C407,88.5 415.5,96 413.6,114.5" fill="none" stroke="#000" stroke-width="1.15"/>
<path d="M413.1,121.2 L410.4,113.6 L416.0,114.2 Z" fill="#000"/>
<ellipse cx="379.2" cy="134.9" rx="13.4" ry="6.85" fill="#000"/>
<ellipse cx="379.2" cy="135.45000000000002" rx="12.2" ry="5.7" fill="#e9a3aa"/>
<ellipse cx="379.2" cy="134.8" rx="12.0" ry="5.1" fill="#000"/>
<ellipse cx="379.2" cy="134.9" rx="11.1" ry="4.1" fill="#f2abb2"/>
<ellipse cx="410.3" cy="134.9" rx="13.4" ry="6.85" fill="#000"/>
<ellipse cx="410.3" cy="135.45000000000002" rx="12.2" ry="5.7" fill="#e9a3aa"/>
<ellipse cx="410.3" cy="134.8" rx="12.0" ry="5.1" fill="#000"/>
<ellipse cx="410.3" cy="134.9" rx="11.1" ry="4.1" fill="#f2abb2"/>
<text x="379.20" y="149.70" font-size="7.6" text-anchor="middle" textLength="18.40" lengthAdjust="spacingAndGlyphs" style="stroke-width:0.05px">PreB</text>
<text x="411.80" y="149.70" font-size="7.6" text-anchor="middle" textLength="14.60" lengthAdjust="spacingAndGlyphs" style="stroke-width:0.05px">GM</text>
<text x="395.90" y="163.30" font-size="7.6" text-anchor="middle" textLength="23.40" lengthAdjust="spacingAndGlyphs" style="stroke-width:0.05px">6 days</text>
<line x1="377.90" y1="156.20" x2="388.18" y2="182.77" stroke="#000" stroke-width="1.0" />
<path d="M390.70,189.30 L385.94,183.10 L390.05,181.51 Z" fill="#000"/>
<line x1="411.30" y1="156.20" x2="400.53" y2="182.81" stroke="#000" stroke-width="1.0" />
<path d="M397.90,189.30 L398.68,181.52 L402.75,183.17 Z" fill="#000"/>
<text x="383.70" y="198.00" font-size="8.0" textLength="23.60" lengthAdjust="spacingAndGlyphs" style="stroke-width:0.05px">colony</text>
<text x="383.70" y="207.90" font-size="8.0" textLength="20.30" lengthAdjust="spacingAndGlyphs" style="stroke-width:0.05px">count</text>
<text x="482.10" y="25.20" font-size="8.8" text-anchor="middle" textLength="43.00" lengthAdjust="spacingAndGlyphs" >Pre B-cells</text>
<line x1="460.50" y1="32.40" x2="503.40" y2="32.40" stroke="#000" stroke-width="1.1" />
<line x1="460.50" y1="31.00" x2="460.50" y2="33.80" stroke="#000" stroke-width="1.0" />
<line x1="503.40" y1="31.00" x2="503.40" y2="33.80" stroke="#000" stroke-width="1.0" />
<circle cx="481.35" cy="28.80" r="0.95" fill="#000"/>
<circle cx="484.10" cy="28.80" r="0.95" fill="#000"/>
<circle cx="486.85" cy="28.80" r="0.95" fill="#000"/>
<line x1="460.50" y1="40.10" x2="481.70" y2="40.10" stroke="#000" stroke-width="1.1" />
<line x1="460.50" y1="38.70" x2="460.50" y2="41.50" stroke="#000" stroke-width="1.0" />
<line x1="481.70" y1="38.70" x2="481.70" y2="41.50" stroke="#000" stroke-width="1.0" />
<circle cx="469.15" cy="36.40" r="0.95" fill="#000"/>
<circle cx="471.90" cy="36.40" r="0.95" fill="#000"/>
<circle cx="474.65" cy="36.40" r="0.95" fill="#000"/>
<line x1="449.20" y1="39.50" x2="449.20" y2="116.90" stroke="#000" stroke-width="1.2" />
<line x1="446.50" y1="40.00" x2="449.20" y2="40.00" stroke="#000" stroke-width="1.0" />
<text x="446.40" y="42.40" font-size="6.0" text-anchor="end" textLength="7.47" lengthAdjust="spacingAndGlyphs" style="stroke-width:0">60</text>
<line x1="446.50" y1="65.47" x2="449.20" y2="65.47" stroke="#000" stroke-width="1.0" />
<text x="446.40" y="67.87" font-size="6.0" text-anchor="end" textLength="7.47" lengthAdjust="spacingAndGlyphs" style="stroke-width:0">40</text>
<line x1="446.50" y1="90.93" x2="449.20" y2="90.93" stroke="#000" stroke-width="1.0" />
<text x="446.40" y="93.33" font-size="6.0" text-anchor="end" textLength="7.47" lengthAdjust="spacingAndGlyphs" style="stroke-width:0">20</text>
<line x1="446.50" y1="116.40" x2="449.20" y2="116.40" stroke="#000" stroke-width="1.0" />
<text x="446.40" y="118.80" font-size="6.0" text-anchor="end" textLength="3.74" lengthAdjust="spacingAndGlyphs" style="stroke-width:0">0</text>
<line x1="446.30" y1="116.40" x2="514.40" y2="116.40" stroke="#000" stroke-width="1.3" />
<line x1="460.60" y1="116.40" x2="460.60" y2="119.40" stroke="#000" stroke-width="1.2" />
<line x1="482.00" y1="116.40" x2="482.00" y2="119.40" stroke="#000" stroke-width="1.2" />
<line x1="503.60" y1="116.40" x2="503.60" y2="119.40" stroke="#000" stroke-width="1.2" />
<text x="456.00" y="127.50" font-size="7.0" textLength="11.80" lengthAdjust="spacingAndGlyphs" >WT</text>
<text x="476.00" y="127.50" font-size="7.0" textLength="14.30" lengthAdjust="spacingAndGlyphs" >QT3</text>
<text x="491.10" y="124.60" font-size="5.0" textLength="9.10" lengthAdjust="spacingAndGlyphs" >+/−</text>
<text x="502.00" y="127.50" font-size="7.0" textLength="10.20" lengthAdjust="spacingAndGlyphs" >QT</text>
<text x="0" y="0" font-size="7.0" text-anchor="middle" textLength="63.50" lengthAdjust="spacingAndGlyphs" transform="translate(435.60,78.05) rotate(-90)"># colonies/1x10<tspan baseline-shift="2.8" font-size="4.8">5</tspan> cells</text>
<ellipse cx="457.20" cy="45.50" rx="1.25" ry="1.5" fill="#000"/>
<ellipse cx="463.30" cy="44.30" rx="1.25" ry="1.5" fill="#000"/>
<ellipse cx="460.40" cy="49.00" rx="1.25" ry="1.5" fill="#000"/>
<ellipse cx="457.40" cy="60.90" rx="1.25" ry="1.5" fill="#000"/>
<ellipse cx="461.60" cy="60.80" rx="1.25" ry="1.5" fill="#000"/>
<ellipse cx="460.40" cy="64.40" rx="1.25" ry="1.5" fill="#000"/>
<ellipse cx="457.40" cy="66.40" rx="1.25" ry="1.5" fill="#000"/>
<ellipse cx="460.40" cy="69.30" rx="1.25" ry="1.5" fill="#000"/>
<ellipse cx="463.40" cy="68.40" rx="1.25" ry="1.5" fill="#000"/>
<line x1="453.20" y1="58.10" x2="467.80" y2="58.10" stroke="#000" stroke-width="1.3" />
<line x1="460.60" y1="55.20" x2="460.60" y2="61.20" stroke="#000" stroke-width="1.1" />
<line x1="457.40" y1="55.20" x2="463.80" y2="55.20" stroke="#000" stroke-width="1.1" />
<line x1="457.40" y1="61.20" x2="463.80" y2="61.20" stroke="#000" stroke-width="1.1" />
<ellipse cx="479.10" cy="81.10" rx="1.25" ry="1.5" fill="#22b14c"/>
<ellipse cx="482.20" cy="82.60" rx="1.25" ry="1.5" fill="#22b14c"/>
<ellipse cx="484.90" cy="77.50" rx="1.25" ry="1.5" fill="#22b14c"/>
<ellipse cx="475.50" cy="94.40" rx="1.25" ry="1.5" fill="#22b14c"/>
<ellipse cx="479.10" cy="99.10" rx="1.25" ry="1.5" fill="#22b14c"/>
<ellipse cx="482.20" cy="99.10" rx="1.25" ry="1.5" fill="#22b14c"/>
<ellipse cx="484.90" cy="97.50" rx="1.25" ry="1.5" fill="#22b14c"/>
<ellipse cx="482.20" cy="108.20" rx="1.25" ry="1.5" fill="#22b14c"/>
<line x1="474.80" y1="93.20" x2="489.00" y2="93.20" stroke="#000" stroke-width="1.3" />
<line x1="482.10" y1="89.70" x2="482.10" y2="95.60" stroke="#000" stroke-width="1.1" />
<line x1="478.60" y1="89.70" x2="485.60" y2="89.70" stroke="#000" stroke-width="1.1" />
<line x1="478.60" y1="95.60" x2="485.60" y2="95.60" stroke="#000" stroke-width="1.1" />
<ellipse cx="503.50" cy="82.60" rx="1.25" ry="1.5" fill="#e0213a"/>
<ellipse cx="503.50" cy="103.80" rx="1.25" ry="1.5" fill="#e0213a"/>
<ellipse cx="503.50" cy="109.00" rx="1.25" ry="1.5" fill="#e0213a"/>
<line x1="496.40" y1="98.30" x2="509.40" y2="98.30" stroke="#000" stroke-width="1.3" />
<line x1="503.50" y1="90.40" x2="503.50" y2="106.20" stroke="#000" stroke-width="1.1" />
<line x1="500.70" y1="90.40" x2="506.30" y2="90.40" stroke="#000" stroke-width="1.1" />
<line x1="500.70" y1="106.20" x2="506.30" y2="106.20" stroke="#000" stroke-width="1.1" />
<text x="482.70" y="140.50" font-size="8.8" text-anchor="middle" textLength="14.80" lengthAdjust="spacingAndGlyphs" >GM</text>
<line x1="449.40" y1="141.50" x2="449.40" y2="220.10" stroke="#000" stroke-width="1.2" />
<line x1="446.70" y1="142.00" x2="449.40" y2="142.00" stroke="#000" stroke-width="1.0" />
<text x="446.40" y="144.40" font-size="6.0" text-anchor="end" textLength="7.47" lengthAdjust="spacingAndGlyphs" style="stroke-width:0">60</text>
<line x1="446.70" y1="167.87" x2="449.40" y2="167.87" stroke="#000" stroke-width="1.0" />
<text x="446.40" y="170.27" font-size="6.0" text-anchor="end" textLength="7.47" lengthAdjust="spacingAndGlyphs" style="stroke-width:0">40</text>
<line x1="446.70" y1="193.73" x2="449.40" y2="193.73" stroke="#000" stroke-width="1.0" />
<text x="446.40" y="196.13" font-size="6.0" text-anchor="end" textLength="7.47" lengthAdjust="spacingAndGlyphs" style="stroke-width:0">20</text>
<line x1="446.70" y1="219.60" x2="449.40" y2="219.60" stroke="#000" stroke-width="1.0" />
<text x="446.40" y="222.00" font-size="6.0" text-anchor="end" textLength="3.74" lengthAdjust="spacingAndGlyphs" style="stroke-width:0">0</text>
<line x1="446.30" y1="219.60" x2="514.80" y2="219.60" stroke="#000" stroke-width="1.3" />
<line x1="460.50" y1="219.60" x2="460.50" y2="222.60" stroke="#000" stroke-width="1.2" />
<line x1="481.60" y1="219.60" x2="481.60" y2="222.60" stroke="#000" stroke-width="1.2" />
<line x1="503.90" y1="219.60" x2="503.90" y2="222.60" stroke="#000" stroke-width="1.2" />
<text x="455.00" y="231.90" font-size="7.0" textLength="11.60" lengthAdjust="spacingAndGlyphs" >WT</text>
<text x="473.70" y="231.90" font-size="7.0" textLength="15.10" lengthAdjust="spacingAndGlyphs" >QT3</text>
<text x="488.80" y="229.30" font-size="5.0" textLength="8.90" lengthAdjust="spacingAndGlyphs" >+/−</text>
<text x="501.20" y="231.90" font-size="7.0" textLength="10.40" lengthAdjust="spacingAndGlyphs" >QT</text>
<text x="0" y="0" font-size="7.0" text-anchor="middle" textLength="63.60" lengthAdjust="spacingAndGlyphs" transform="translate(434.90,181.10) rotate(-90)"># colonies/1x10<tspan baseline-shift="2.8" font-size="4.8">5</tspan> cells</text>
<ellipse cx="457.40" cy="159.60" rx="1.25" ry="1.5" fill="#000"/>
<ellipse cx="460.70" cy="161.60" rx="1.25" ry="1.5" fill="#000"/>
<ellipse cx="463.50" cy="169.80" rx="1.25" ry="1.5" fill="#000"/>
<ellipse cx="460.30" cy="172.50" rx="1.25" ry="1.5" fill="#000"/>
<ellipse cx="454.60" cy="181.10" rx="1.25" ry="1.5" fill="#000"/>
<ellipse cx="457.40" cy="182.20" rx="1.25" ry="1.5" fill="#000"/>
<ellipse cx="461.90" cy="181.70" rx="1.25" ry="1.5" fill="#000"/>
<ellipse cx="464.50" cy="180.60" rx="1.25" ry="1.5" fill="#000"/>
<ellipse cx="466.20" cy="181.60" rx="1.25" ry="1.5" fill="#000"/>
<ellipse cx="460.20" cy="185.50" rx="1.25" ry="1.5" fill="#000"/>
<line x1="452.90" y1="176.10" x2="467.80" y2="176.10" stroke="#000" stroke-width="1.3" />
<line x1="460.50" y1="173.40" x2="460.50" y2="178.60" stroke="#000" stroke-width="1.1" />
<line x1="457.40" y1="173.40" x2="463.60" y2="173.40" stroke="#000" stroke-width="1.1" />
<line x1="457.40" y1="178.60" x2="463.60" y2="178.60" stroke="#000" stroke-width="1.1" />
<ellipse cx="482.10" cy="155.90" rx="1.25" ry="1.5" fill="#22b14c"/>
<ellipse cx="478.90" cy="162.60" rx="1.25" ry="1.5" fill="#22b14c"/>
<ellipse cx="482.10" cy="166.40" rx="1.25" ry="1.5" fill="#22b14c"/>
<ellipse cx="484.90" cy="164.90" rx="1.25" ry="1.5" fill="#22b14c"/>
<ellipse cx="475.90" cy="183.10" rx="1.25" ry="1.5" fill="#22b14c"/>
<ellipse cx="478.40" cy="183.50" rx="1.25" ry="1.5" fill="#22b14c"/>
<ellipse cx="481.20" cy="183.80" rx="1.25" ry="1.5" fill="#22b14c"/>
<ellipse cx="484.90" cy="183.80" rx="1.25" ry="1.5" fill="#22b14c"/>
<ellipse cx="484.90" cy="185.70" rx="1.25" ry="1.5" fill="#22b14c"/>
<ellipse cx="478.90" cy="185.30" rx="1.25" ry="1.5" fill="#22b14c"/>
<ellipse cx="482.10" cy="188.10" rx="1.25" ry="1.5" fill="#22b14c"/>
<line x1="475.20" y1="176.60" x2="489.50" y2="176.60" stroke="#000" stroke-width="1.3" />
<line x1="481.70" y1="173.20" x2="481.70" y2="179.80" stroke="#000" stroke-width="1.1" />
<line x1="478.70" y1="173.20" x2="484.70" y2="173.20" stroke="#000" stroke-width="1.1" />
<line x1="478.70" y1="179.80" x2="484.70" y2="179.80" stroke="#000" stroke-width="1.1" />
<line x1="503.80" y1="174.60" x2="503.80" y2="186.40" stroke="#e0213a" stroke-width="1.6" />
<ellipse cx="503.80" cy="175.70" rx="1.25" ry="1.5" fill="#e0213a"/>
<ellipse cx="503.80" cy="185.30" rx="1.25" ry="1.5" fill="#e0213a"/>
<ellipse cx="507.00" cy="181.20" rx="1.25" ry="1.5" fill="#e0213a"/>
<line x1="496.00" y1="180.70" x2="510.00" y2="180.70" stroke="#000" stroke-width="1.3" />
<line x1="503.80" y1="178.80" x2="503.80" y2="182.60" stroke="#000" stroke-width="1.1" />
<line x1="500.80" y1="178.80" x2="506.80" y2="178.80" stroke="#000" stroke-width="1.1" />
<line x1="500.80" y1="182.60" x2="506.80" y2="182.60" stroke="#000" stroke-width="1.1" />
</svg>
</body></html>
